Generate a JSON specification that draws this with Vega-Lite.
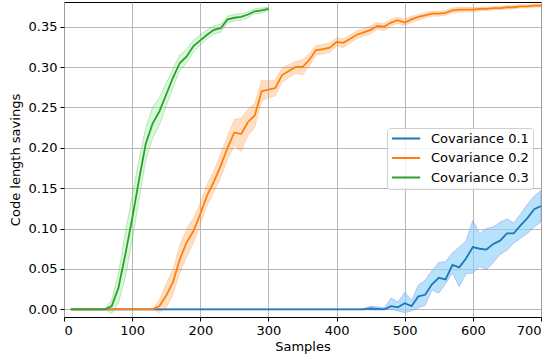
{
"$schema": "https://vega.github.io/schema/vega-lite/v6.json",
"width": 477, "height": 315,
"autosize": {"type": "none"},
"padding": {"left": 64, "top": 2, "right": 13, "bottom": 45},
"background": "white",
"config": {
  "font": "DejaVu Sans",
  "view": {"stroke": "black", "strokeWidth": 1},
  "axis": {"grid": true, "gridColor": "#b0b0b0", "gridWidth": 0.9, "domain": false, "tickColor": "black", "tickSize": 4, "labelFontSize": 13, "titleFontSize": 13, "labelColor": "black", "titleColor": "black", "titleFontWeight": "normal", "labelPadding": 3}
},
"data": {"values": [
{"s":"Covariance 0.1","x":10,"y":0,"lo":0,"hi":0},{"s":"Covariance 0.1","x":20,"y":0,"lo":0,"hi":0},{"s":"Covariance 0.1","x":30,"y":0,"lo":0,"hi":0},{"s":"Covariance 0.1","x":40,"y":0,"lo":0,"hi":0},{"s":"Covariance 0.1","x":50,"y":0,"lo":0,"hi":0},{"s":"Covariance 0.1","x":60,"y":0,"lo":0,"hi":0},{"s":"Covariance 0.1","x":70,"y":0,"lo":0,"hi":0},{"s":"Covariance 0.1","x":80,"y":0,"lo":0,"hi":0},{"s":"Covariance 0.1","x":90,"y":0,"lo":0,"hi":0},{"s":"Covariance 0.1","x":100,"y":0,"lo":0,"hi":0},
{"s":"Covariance 0.1","x":110,"y":0,"lo":0,"hi":0},{"s":"Covariance 0.1","x":120,"y":0,"lo":0,"hi":0},{"s":"Covariance 0.1","x":130,"y":0,"lo":0,"hi":0},{"s":"Covariance 0.1","x":140,"y":0,"lo":0,"hi":0},{"s":"Covariance 0.1","x":150,"y":0,"lo":0,"hi":0},{"s":"Covariance 0.1","x":160,"y":0,"lo":0,"hi":0},{"s":"Covariance 0.1","x":170,"y":0,"lo":0,"hi":0},{"s":"Covariance 0.1","x":180,"y":0,"lo":0,"hi":0},{"s":"Covariance 0.1","x":190,"y":0,"lo":0,"hi":0},{"s":"Covariance 0.1","x":200,"y":0,"lo":0,"hi":0},
{"s":"Covariance 0.1","x":210,"y":0,"lo":0,"hi":0},{"s":"Covariance 0.1","x":220,"y":0,"lo":0,"hi":0},{"s":"Covariance 0.1","x":230,"y":0,"lo":0,"hi":0},{"s":"Covariance 0.1","x":240,"y":0,"lo":0,"hi":0},{"s":"Covariance 0.1","x":250,"y":0,"lo":0,"hi":0},{"s":"Covariance 0.1","x":260,"y":0,"lo":0,"hi":0},{"s":"Covariance 0.1","x":270,"y":0,"lo":0,"hi":0},{"s":"Covariance 0.1","x":280,"y":0,"lo":0,"hi":0},{"s":"Covariance 0.1","x":290,"y":0,"lo":0,"hi":0},{"s":"Covariance 0.1","x":300,"y":0,"lo":0,"hi":0},
{"s":"Covariance 0.1","x":310,"y":0,"lo":0,"hi":0},{"s":"Covariance 0.1","x":320,"y":0,"lo":0,"hi":0},{"s":"Covariance 0.1","x":330,"y":0,"lo":0,"hi":0},{"s":"Covariance 0.1","x":340,"y":0,"lo":0,"hi":0},{"s":"Covariance 0.1","x":350,"y":0,"lo":0,"hi":0},{"s":"Covariance 0.1","x":360,"y":0,"lo":0,"hi":0},{"s":"Covariance 0.1","x":370,"y":0,"lo":0,"hi":0},{"s":"Covariance 0.1","x":380,"y":0,"lo":0,"hi":0},{"s":"Covariance 0.1","x":390,"y":0,"lo":0,"hi":0},{"s":"Covariance 0.1","x":400,"y":0,"lo":0,"hi":0},
{"s":"Covariance 0.1","x":410,"y":0,"lo":0,"hi":0},{"s":"Covariance 0.1","x":420,"y":0,"lo":0,"hi":0},{"s":"Covariance 0.1","x":430,"y":0,"lo":0,"hi":0},{"s":"Covariance 0.1","x":440,"y":0,"lo":0,"hi":0.001},{"s":"Covariance 0.1","x":450,"y":0.001,"lo":-0.001,"hi":0.004},{"s":"Covariance 0.1","x":460,"y":0.0005,"lo":-0.001,"hi":0.003},{"s":"Covariance 0.1","x":470,"y":0,"lo":-0.0005,"hi":0.002},{"s":"Covariance 0.1","x":480,"y":0.004,"lo":0.0,"hi":0.014},{"s":"Covariance 0.1","x":490,"y":0.0025,"lo":-0.002,"hi":0.009},{"s":"Covariance 0.1","x":500,"y":0.0075,"lo":-0.004,"hi":0.021},
{"s":"Covariance 0.1","x":510,"y":0.004,"lo":-0.002,"hi":0.011},{"s":"Covariance 0.1","x":520,"y":0.016,"lo":0.002,"hi":0.030},{"s":"Covariance 0.1","x":530,"y":0.018,"lo":0.005,"hi":0.036},{"s":"Covariance 0.1","x":540,"y":0.031,"lo":0.024,"hi":0.048},{"s":"Covariance 0.1","x":550,"y":0.039,"lo":0.020,"hi":0.058},{"s":"Covariance 0.1","x":560,"y":0.037,"lo":0.032,"hi":0.059},{"s":"Covariance 0.1","x":570,"y":0.055,"lo":0.045,"hi":0.070},{"s":"Covariance 0.1","x":580,"y":0.052,"lo":0.028,"hi":0.077},{"s":"Covariance 0.1","x":590,"y":0.063,"lo":0.044,"hi":0.085},{"s":"Covariance 0.1","x":600,"y":0.077,"lo":0.045,"hi":0.110},
{"s":"Covariance 0.1","x":610,"y":0.075,"lo":0.053,"hi":0.094},{"s":"Covariance 0.1","x":620,"y":0.074,"lo":0.049,"hi":0.100},{"s":"Covariance 0.1","x":630,"y":0.081,"lo":0.058,"hi":0.102},{"s":"Covariance 0.1","x":640,"y":0.085,"lo":0.068,"hi":0.108},{"s":"Covariance 0.1","x":650,"y":0.094,"lo":0.073,"hi":0.112},{"s":"Covariance 0.1","x":660,"y":0.094,"lo":0.082,"hi":0.107},{"s":"Covariance 0.1","x":670,"y":0.104,"lo":0.088,"hi":0.118},{"s":"Covariance 0.1","x":680,"y":0.113,"lo":0.094,"hi":0.130},{"s":"Covariance 0.1","x":690,"y":0.124,"lo":0.102,"hi":0.140},{"s":"Covariance 0.1","x":700,"y":0.128,"lo":0.108,"hi":0.147},
{"s":"Covariance 0.2","x":10,"y":0,"lo":0,"hi":0},{"s":"Covariance 0.2","x":20,"y":0,"lo":0,"hi":0},{"s":"Covariance 0.2","x":30,"y":0,"lo":0,"hi":0},{"s":"Covariance 0.2","x":40,"y":0,"lo":0,"hi":0},{"s":"Covariance 0.2","x":50,"y":0,"lo":0,"hi":0},{"s":"Covariance 0.2","x":60,"y":0,"lo":0,"hi":0},{"s":"Covariance 0.2","x":70,"y":0,"lo":0,"hi":0},{"s":"Covariance 0.2","x":80,"y":0,"lo":0,"hi":0},{"s":"Covariance 0.2","x":90,"y":0,"lo":0,"hi":0},{"s":"Covariance 0.2","x":100,"y":0,"lo":0,"hi":0},
{"s":"Covariance 0.2","x":110,"y":0,"lo":0,"hi":0},{"s":"Covariance 0.2","x":120,"y":0,"lo":0,"hi":0},{"s":"Covariance 0.2","x":130,"y":0,"lo":0,"hi":0},{"s":"Covariance 0.2","x":140,"y":0.004,"lo":-0.004,"hi":0.012},{"s":"Covariance 0.2","x":150,"y":0.017,"lo":0.002,"hi":0.032},{"s":"Covariance 0.2","x":160,"y":0.034,"lo":0.018,"hi":0.050},{"s":"Covariance 0.2","x":170,"y":0.062,"lo":0.045,"hi":0.080},{"s":"Covariance 0.2","x":180,"y":0.083,"lo":0.065,"hi":0.100},{"s":"Covariance 0.2","x":190,"y":0.097,"lo":0.082,"hi":0.113},{"s":"Covariance 0.2","x":200,"y":0.118,"lo":0.105,"hi":0.132},
{"s":"Covariance 0.2","x":210,"y":0.141,"lo":0.128,"hi":0.155},{"s":"Covariance 0.2","x":220,"y":0.158,"lo":0.145,"hi":0.172},{"s":"Covariance 0.2","x":230,"y":0.178,"lo":0.163,"hi":0.193},{"s":"Covariance 0.2","x":240,"y":0.200,"lo":0.185,"hi":0.215},{"s":"Covariance 0.2","x":250,"y":0.219,"lo":0.203,"hi":0.235},{"s":"Covariance 0.2","x":260,"y":0.217,"lo":0.195,"hi":0.237},{"s":"Covariance 0.2","x":270,"y":0.232,"lo":0.215,"hi":0.248},{"s":"Covariance 0.2","x":280,"y":0.240,"lo":0.225,"hi":0.255},{"s":"Covariance 0.2","x":290,"y":0.270,"lo":0.258,"hi":0.284},{"s":"Covariance 0.2","x":300,"y":0.272,"lo":0.262,"hi":0.283},
{"s":"Covariance 0.2","x":310,"y":0.274,"lo":0.264,"hi":0.284},{"s":"Covariance 0.2","x":320,"y":0.290,"lo":0.281,"hi":0.299},{"s":"Covariance 0.2","x":330,"y":0.295,"lo":0.287,"hi":0.303},{"s":"Covariance 0.2","x":340,"y":0.300,"lo":0.292,"hi":0.307},{"s":"Covariance 0.2","x":350,"y":0.300,"lo":0.290,"hi":0.309},{"s":"Covariance 0.2","x":360,"y":0.309,"lo":0.301,"hi":0.317},{"s":"Covariance 0.2","x":370,"y":0.321,"lo":0.315,"hi":0.327},{"s":"Covariance 0.2","x":380,"y":0.322,"lo":0.316,"hi":0.328},{"s":"Covariance 0.2","x":390,"y":0.324,"lo":0.318,"hi":0.330},{"s":"Covariance 0.2","x":400,"y":0.331,"lo":0.326,"hi":0.336},
{"s":"Covariance 0.2","x":410,"y":0.330,"lo":0.324,"hi":0.335},{"s":"Covariance 0.2","x":420,"y":0.335,"lo":0.330,"hi":0.340},{"s":"Covariance 0.2","x":430,"y":0.340,"lo":0.335,"hi":0.345},{"s":"Covariance 0.2","x":440,"y":0.343,"lo":0.338,"hi":0.348},{"s":"Covariance 0.2","x":450,"y":0.346,"lo":0.341,"hi":0.351},{"s":"Covariance 0.2","x":460,"y":0.351,"lo":0.347,"hi":0.355},{"s":"Covariance 0.2","x":470,"y":0.350,"lo":0.345,"hi":0.354},{"s":"Covariance 0.2","x":480,"y":0.355,"lo":0.351,"hi":0.359},{"s":"Covariance 0.2","x":490,"y":0.358,"lo":0.354,"hi":0.362},{"s":"Covariance 0.2","x":500,"y":0.355,"lo":0.351,"hi":0.359},
{"s":"Covariance 0.2","x":510,"y":0.359,"lo":0.355,"hi":0.363},{"s":"Covariance 0.2","x":520,"y":0.362,"lo":0.358,"hi":0.365},{"s":"Covariance 0.2","x":530,"y":0.364,"lo":0.361,"hi":0.367},{"s":"Covariance 0.2","x":540,"y":0.366,"lo":0.363,"hi":0.369},{"s":"Covariance 0.2","x":550,"y":0.366,"lo":0.363,"hi":0.369},{"s":"Covariance 0.2","x":560,"y":0.367,"lo":0.364,"hi":0.370},{"s":"Covariance 0.2","x":570,"y":0.370,"lo":0.367,"hi":0.373},{"s":"Covariance 0.2","x":580,"y":0.371,"lo":0.368,"hi":0.374},{"s":"Covariance 0.2","x":590,"y":0.371,"lo":0.368,"hi":0.374},{"s":"Covariance 0.2","x":600,"y":0.371,"lo":0.368,"hi":0.374},
{"s":"Covariance 0.2","x":610,"y":0.372,"lo":0.370,"hi":0.374},{"s":"Covariance 0.2","x":620,"y":0.372,"lo":0.370,"hi":0.374},{"s":"Covariance 0.2","x":630,"y":0.373,"lo":0.371,"hi":0.375},{"s":"Covariance 0.2","x":640,"y":0.373,"lo":0.371,"hi":0.375},{"s":"Covariance 0.2","x":650,"y":0.374,"lo":0.372,"hi":0.376},{"s":"Covariance 0.2","x":660,"y":0.374,"lo":0.372,"hi":0.376},{"s":"Covariance 0.2","x":670,"y":0.375,"lo":0.373,"hi":0.377},{"s":"Covariance 0.2","x":680,"y":0.375,"lo":0.373,"hi":0.377},{"s":"Covariance 0.2","x":690,"y":0.376,"lo":0.374,"hi":0.378},{"s":"Covariance 0.2","x":700,"y":0.376,"lo":0.374,"hi":0.378},
{"s":"Covariance 0.3","x":10,"y":0,"lo":0,"hi":0},{"s":"Covariance 0.3","x":20,"y":0,"lo":0,"hi":0},{"s":"Covariance 0.3","x":30,"y":0,"lo":0,"hi":0},{"s":"Covariance 0.3","x":40,"y":0,"lo":0,"hi":0},{"s":"Covariance 0.3","x":50,"y":0,"lo":0,"hi":0},{"s":"Covariance 0.3","x":60,"y":0,"lo":0,"hi":0},{"s":"Covariance 0.3","x":70,"y":0.004,"lo":-0.005,"hi":0.012},{"s":"Covariance 0.3","x":80,"y":0.027,"lo":0.008,"hi":0.045},{"s":"Covariance 0.3","x":90,"y":0.068,"lo":0.040,"hi":0.095},{"s":"Covariance 0.3","x":100,"y":0.112,"lo":0.085,"hi":0.140},
{"s":"Covariance 0.3","x":110,"y":0.160,"lo":0.135,"hi":0.185},{"s":"Covariance 0.3","x":120,"y":0.205,"lo":0.185,"hi":0.225},{"s":"Covariance 0.3","x":130,"y":0.230,"lo":0.212,"hi":0.250},{"s":"Covariance 0.3","x":140,"y":0.245,"lo":0.228,"hi":0.262},{"s":"Covariance 0.3","x":150,"y":0.266,"lo":0.252,"hi":0.280},{"s":"Covariance 0.3","x":160,"y":0.287,"lo":0.275,"hi":0.298},{"s":"Covariance 0.3","x":170,"y":0.305,"lo":0.296,"hi":0.315},{"s":"Covariance 0.3","x":180,"y":0.313,"lo":0.305,"hi":0.322},{"s":"Covariance 0.3","x":190,"y":0.326,"lo":0.319,"hi":0.333},{"s":"Covariance 0.3","x":200,"y":0.333,"lo":0.327,"hi":0.340},
{"s":"Covariance 0.3","x":210,"y":0.340,"lo":0.335,"hi":0.346},{"s":"Covariance 0.3","x":220,"y":0.346,"lo":0.341,"hi":0.351},{"s":"Covariance 0.3","x":230,"y":0.348,"lo":0.343,"hi":0.353},{"s":"Covariance 0.3","x":240,"y":0.359,"lo":0.355,"hi":0.363},{"s":"Covariance 0.3","x":250,"y":0.361,"lo":0.357,"hi":0.365},{"s":"Covariance 0.3","x":260,"y":0.362,"lo":0.358,"hi":0.366},{"s":"Covariance 0.3","x":270,"y":0.365,"lo":0.361,"hi":0.368},{"s":"Covariance 0.3","x":280,"y":0.369,"lo":0.366,"hi":0.372},{"s":"Covariance 0.3","x":290,"y":0.370,"lo":0.367,"hi":0.373},{"s":"Covariance 0.3","x":300,"y":0.372,"lo":0.370,"hi":0.374}
]},
"encoding": {
  "x": {"field": "x", "type": "quantitative", "scale": {"domain": [0, 700], "nice": false, "zero": false}, "axis": {"title": "Samples", "values": [0,100,200,300,400,500,600,700], "titlePadding": 3}}
},
"layer": [
  {"transform": [{"filter": "datum.s == 'Covariance 0.1'"}],
   "mark": {"type": "area", "fill": "#87cefa", "fillOpacity": 0.6, "stroke": "#7b68ee", "strokeOpacity": 0.35, "strokeWidth": 1},
   "encoding": {"y": {"field": "lo", "type": "quantitative", "scale": {"domain": [-0.0095, 0.3805], "nice": false, "zero": false}, "axis": {"title": "Code length savings", "values": [0,0.05,0.1,0.15,0.2,0.25,0.3,0.35], "format": ".2f", "titlePadding": 6}}, "y2": {"field": "hi"}}},
  {"transform": [{"filter": "datum.s == 'Covariance 0.2'"}],
   "mark": {"type": "area", "fill": "#ff7f0e", "fillOpacity": 0.25, "stroke": "#ff7f0e", "strokeOpacity": 0.2, "strokeWidth": 1},
   "encoding": {"y": {"field": "lo", "type": "quantitative", "axis": {"title": "Code length savings", "values": [0,0.05,0.1,0.15,0.2,0.25,0.3,0.35], "format": ".2f", "titlePadding": 6}}, "y2": {"field": "hi"}}},
  {"transform": [{"filter": "datum.s == 'Covariance 0.3'"}],
   "mark": {"type": "area", "fill": "#90ee90", "fillOpacity": 0.35, "stroke": "#2ca02c", "strokeOpacity": 0.25, "strokeWidth": 1},
   "encoding": {"y": {"field": "lo", "type": "quantitative", "axis": {"title": "Code length savings", "values": [0,0.05,0.1,0.15,0.2,0.25,0.3,0.35], "format": ".2f", "titlePadding": 6}}, "y2": {"field": "hi"}}},
  {"mark": {"type": "line", "strokeWidth": 1.8},
   "encoding": {
     "y": {"field": "y", "type": "quantitative", "axis": {"title": "Code length savings", "values": [0,0.05,0.1,0.15,0.2,0.25,0.3,0.35], "format": ".2f", "titlePadding": 6}},
     "color": {"field": "s", "type": "nominal", "scale": {"domain": ["Covariance 0.1","Covariance 0.2","Covariance 0.3"], "range": ["#1f77b4","#ff7f0e","#2ca02c"]},
       "legend": {"title": null, "orient": "none", "legendX": 323, "legendY": 126, "symbolType": "M-1.12,0H4.54", "symbolSize": 100, "symbolStrokeWidth": 2, "labelFontSize": 13, "labelColor": "black", "labelOffset": 27, "padding": 4, "rowPadding": 5.5, "strokeColor": "#d0d0d0", "fillColor": "rgba(255,255,255,0.8)", "cornerRadius": 3}}
   }}
]
}
